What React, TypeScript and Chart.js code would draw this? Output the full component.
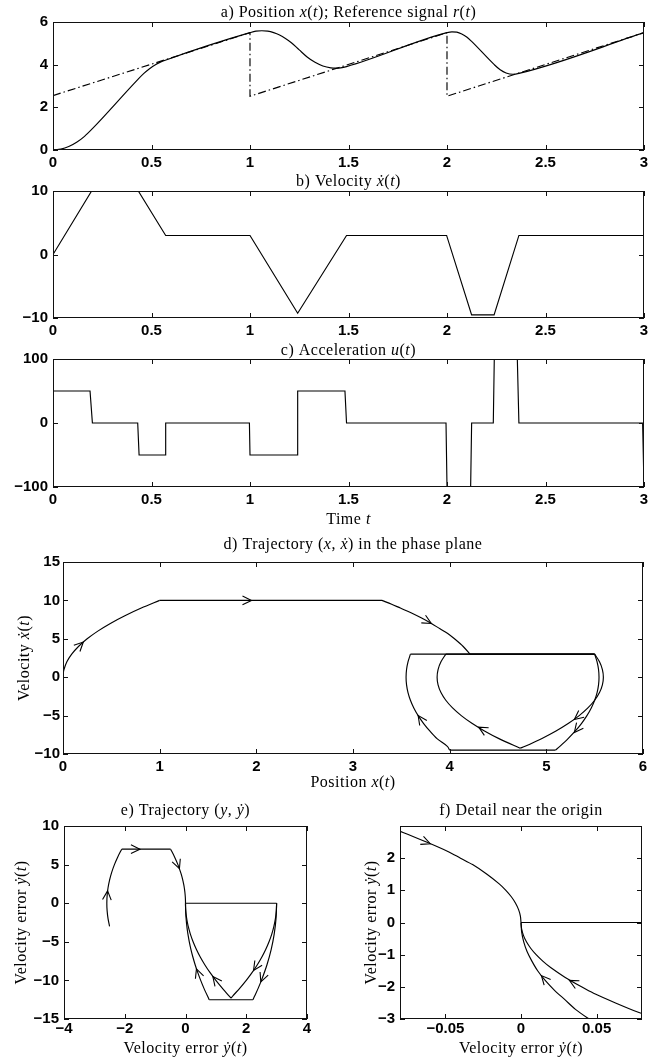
import React, { useEffect, useRef } from 'react';
import { Chart, registerables } from 'chart.js';

Chart.register(...registerables);

// ---------- a) position x(t) and reference r(t) ----------
const posT = [0, 0.04, 0.08, 0.12, 0.16, 0.2, 0.43, 0.46, 0.49, 0.52, 0.545, 0.57, 1.0, 1.03, 1.06, 1.09, 1.12, 1.15, 1.18, 1.21, 1.25, 1.29, 1.33, 1.37, 1.41, 1.435, 1.46, 1.49, 2.0, 2.025, 2.05, 2.075, 2.1, 2.125, 2.24, 2.27, 2.3, 2.335, 2.365, 3.0];
const posX = [0, 0.04, 0.16, 0.36, 0.64, 1.0, 3.3, 3.58, 3.81, 4.0, 4.12, 4.21, 5.5, 5.57, 5.59, 5.57, 5.5, 5.39, 5.23, 5.03, 4.69, 4.36, 4.11, 3.94, 3.85, 3.835, 3.85, 3.91, 5.5, 5.54, 5.525, 5.44, 5.3, 5.09, 4.0, 3.76, 3.61, 3.55, 3.59, 5.5];
const refT = [0, 1, 1, 2, 2, 3, 3];
const refR = [2.55, 5.5, 2.52, 5.5, 2.52, 5.5, 2.52];

// ---------- b) velocity ----------
const velT = [0, 0.196, 0.433, 0.572, 1.0, 1.242, 1.49, 1.998, 2.125, 2.239, 2.365, 3.0];
const velV = [0, 10, 10, 3, 3, -9.25, 3, 3, -9.5, -9.5, 3, 3];

// ---------- c) acceleration ----------
const accT = [0, 0.188, 0.2, 0.43, 0.437, 0.569, 0.572, 0.997, 1.0, 1.24, 1.242, 1.482, 1.49, 1.995, 2.0, 2.12, 2.125, 2.235, 2.24, 2.357, 2.365, 2.993, 3.0];
const accU = [50, 50, 0, 0, -50, -50, 0, 0, -50, -50, 50, 50, 0, 0, -100, -100, 0, 0, 100, 100, 0, 0, -100];

const timeTicks = [0, 0.5, 1, 1.5, 2, 2.5, 3];
const posTicks = [0, 2, 4, 6];
const velTicks = [-10, 0, 10];
const accTicks = [-100, 0, 100];

// ---------- d) phase plane (x, xdot) ----------
const dInitX = [0, 0.0025, 0.01, 0.04, 0.09, 0.16, 0.25, 0.36, 0.49, 0.64, 0.81, 1.0];
const dInitV = [0, 0.5, 1, 2, 3, 4, 5, 6, 7, 8, 9, 10];
const dTopX = [1.0, 3.3];
const dTopV = [10, 10];
const dDecX = [3.3, 3.4, 3.49, 3.6, 3.71, 3.81, 3.9, 3.98, 4.05, 4.14, 4.21];
const dDecV = [10, 9.5, 9, 8.4, 7.7, 7.0, 6.3, 5.7, 5.0, 4.0, 3.0];
const dCr1X = [4.21, 5.5];
const dCr1V = [3, 3];
const dL1OutX = [5.5, 5.55, 5.58, 5.59, 5.58, 5.55, 5.5, 5.43, 5.34, 5.23, 5.1, 4.95, 4.78, 4.73];
const dL1OutV = [3, 2, 1, 0, -1, -2, -3, -4, -5, -6, -7, -8, -9, -9.25];
const dL1RetX = [4.73, 4.51, 4.36, 4.23, 4.12, 4.03, 3.96, 3.91, 3.88, 3.87, 3.88, 3.91, 3.96];
const dL1RetV = [-9.25, -8, -7, -6, -5, -4, -3, -2, -1, 0, 1, 2, 3];
const dCr2X = [3.96, 5.5];
const dCr2V = [3, 3];
const dL2OutX = [5.5, 5.525, 5.54, 5.545, 5.54, 5.525, 5.5, 5.465, 5.42, 5.365, 5.3, 5.225, 5.14, 5.094];
const dL2OutV = [3, 2, 1, 0, -1, -2, -3, -4, -5, -6, -7, -8, -9, -9.5];
const dBotX = [5.094, 4.0];
const dBotV = [-9.5, -9.5];
const dL2RetX = [4.0, 3.976, 3.869, 3.794, 3.729, 3.674, 3.629, 3.594, 3.569, 3.554, 3.549, 3.554, 3.569, 3.594];
const dL2RetV = [-9.5, -9, -8, -7, -6, -5, -4, -3, -2, -1, 0, 1, 2, 3];
const dCr3X = [3.594, 5.5];
const dCr3V = [3, 3];
const phaseXTicks = [0, 1, 2, 3, 4, 5, 6];
const phaseYTicks = [-10, -5, 0, 5, 10, 15];
// arrows: tip x, tip y, tail x, tail y
const dArrows = [
  [0.21, 4.58, 0.12, 3.46],
  [1.95, 10, 1.7, 10],
  [3.81, 7.0, 3.71, 7.7],
  [4.3, -6.5, 4.44, -7.5],
  [3.674, -5, 3.729, -6],
  [5.29, -5.5, 5.39, -4.5],
  [5.29, -7.2, 5.353, -6.2],
];

// ---------- e/f) error trajectory (y, ydot) ----------
const eInitY = [-2.5, -2.55, -2.58, -2.59, -2.58, -2.55, -2.5, -2.43, -2.34, -2.23, -2.1];
const eInitDY = [-3, -2, -1, 0, 1, 2, 3, 4, 5, 6, 7];
const eTopY = [-2.1, -0.49];
const eTopDY = [7, 7];
const eDescY = [-0.49, -0.36, -0.25, -0.16, -0.1225, -0.09, -0.078, -0.0625, -0.048, -0.04, -0.032, -0.0225, -0.0144, -0.01, -0.0064, -0.0036, -0.0016, -0.0004, 0];
const eDescDY = [7, 6, 5, 4, 3.5, 3, 2.8, 2.5, 2.2, 2, 1.8, 1.5, 1.2, 1, 0.8, 0.6, 0.4, 0.2, 0];
const eJumpY = [0, 3];
const eJumpDY = [0, 0];
const eL1OutY = [3, 2.99, 2.96, 2.91, 2.84, 2.75, 2.64, 2.51, 2.36, 2.19, 2.0, 1.79, 1.56, 1.5];
const eL1OutDY = [0, -1, -2, -3, -4, -5, -6, -7, -8, -9, -10, -11, -12, -12.3];
const eL1RetY = [1.5, 1.21, 1.0, 0.81, 0.64, 0.49, 0.36, 0.25, 0.16, 0.1225, 0.09, 0.078, 0.0625, 0.048, 0.04, 0.029, 0.0196, 0.0144, 0.01, 0.0064, 0.0036, 0.0016, 0.0004, 0];
const eL1RetDY = [-12.3, -11, -10, -9, -8, -7, -6, -5, -4, -3.5, -3, -2.8, -2.5, -2.2, -2, -1.7, -1.4, -1.2, -1, -0.8, -0.6, -0.4, -0.2, 0];
const eL2OutY = [3, 2.98, 2.92, 2.82, 2.68, 2.5, 2.395, 2.28, 2.22];
const eL2OutDY = [0, -2, -4, -6, -8, -10, -11, -12, -12.5];
const eBotY = [2.22, 0.78];
const eBotDY = [-12.5, -12.5];
const eL2RetY = [0.78, 0.605, 0.5, 0.405, 0.32, 0.245, 0.18, 0.125, 0.08, 0.061, 0.045, 0.036, 0.029, 0.022, 0.016, 0.011, 0.0072, 0.004, 0.0018, 0.00045, 0];
const eL2RetDY = [-12.5, -11, -10, -9, -8, -7, -6, -5, -4, -3.5, -3, -2.7, -2.4, -2.1, -1.8, -1.5, -1.2, -0.9, -0.6, -0.3, 0];
const errXTicks = [-4, -2, 0, 2, 4];
const errYTicks = [-15, -10, -5, 0, 5, 10];
const detXTicks = [-0.05, 0, 0.05];
const detYTicks = [-3, -2, -1, 0, 1, 2];
const eArrows = [
  [-2.565, 1.6, -2.585, 0.6],
  [-1.5, 7, -1.8, 7],
  [-0.2, 4.47, -0.29, 5.4],
  [2.24, -8.7, 2.39, -7.8],
  [2.48, -10.2, 2.58, -9.2],
  [0.9, -9.5, 1.12, -10.6],
  [0.36, -8.5, 0.48, -9.8],
];
const fArrows = [
  [-0.06, 2.45, -0.076, 2.75],
  [0.032, -1.8, 0.044, -2.1],
  [0.0135, -1.65, 0.022, -2.1],
];

// ---------- layout / drawing ----------
type Seg = { xs: number[]; ys: number[]; dash?: number[]; tension?: number; mono?: boolean };
type Panel = {
  box: number[]; area: number[];
  xr: number[]; yr: number[]; xt: number[]; yt: number[];
  segs: Seg[]; arrows: number[][];
  title: string; titleDy: number; titleDx?: number;
  xLabel?: string; xLabelDy?: number; xLabelDx?: number;
  yLabel?: string; yLabelDx?: number;
  xPad: number; yPad: number;
};

const SERIF = '"Liberation Serif", "Times New Roman", "DejaVu Serif", serif';
const SANS = '"Liberation Sans", Arial, Helvetica, sans-serif';
const TEXT_SIZE = 16;

const errSegs: Seg[] = [
  { xs: eInitY, ys: eInitDY, tension: 0.3 },
  { xs: eTopY, ys: eTopDY },
  { xs: eDescY, ys: eDescDY, tension: 0.3 },
  { xs: eJumpY, ys: eJumpDY },
  { xs: eL1OutY, ys: eL1OutDY, tension: 0.3 },
  { xs: eL1RetY, ys: eL1RetDY, tension: 0.3 },
  { xs: eL2OutY, ys: eL2OutDY, tension: 0.3 },
  { xs: eBotY, ys: eBotDY },
  { xs: eL2RetY, ys: eL2RetDY, tension: 0.3 },
];

const panels: Panel[] = [
  {
    box: [0, 0, 671, 172], area: [53, 22, 644, 150],
    xr: [0, 3], yr: [0, 6], xt: timeTicks, yt: posTicks,
    segs: [
      { xs: posT, ys: posX, mono: true },
      { xs: refT, ys: refR, dash: [8, 3, 1.5, 3] },
    ],
    arrows: [],
    title: 'a) Position $x$($t$); Reference signal $r$($t$)', titleDy: -9.5,
    xPad: 4, yPad: 5,
  },
  {
    box: [0, 172, 671, 168], area: [53, 191, 644, 318],
    xr: [0, 3], yr: [-10, 10], xt: timeTicks, yt: velTicks,
    segs: [{ xs: velT, ys: velV }],
    arrows: [],
    title: 'b) Velocity $ẋ$($t$)', titleDy: -9,
    xPad: 4, yPad: 5,
  },
  {
    box: [0, 340, 671, 190], area: [53, 359, 644, 487],
    xr: [0, 3], yr: [-100, 100], xt: timeTicks, yt: accTicks,
    segs: [{ xs: accT, ys: accU }],
    arrows: [],
    title: 'c) Acceleration $u$($t$)', titleDy: -8.5,
    xLabel: 'Time $t$', xLabelDy: 33,
    xPad: 4, yPad: 5,
  },
  {
    box: [0, 530, 671, 265], area: [63, 562, 643, 754],
    xr: [0, 6], yr: [-10, 15], xt: phaseXTicks, yt: phaseYTicks,
    segs: [
      { xs: dInitX, ys: dInitV, tension: 0.3 },
      { xs: dTopX, ys: dTopV },
      { xs: dDecX, ys: dDecV, tension: 0.3 },
      { xs: dCr1X, ys: dCr1V },
      { xs: dL1OutX, ys: dL1OutV, tension: 0.3 },
      { xs: dL1RetX, ys: dL1RetV, tension: 0.3 },
      { xs: dCr2X, ys: dCr2V },
      { xs: dL2OutX, ys: dL2OutV, tension: 0.3 },
      { xs: dBotX, ys: dBotV },
      { xs: dL2RetX, ys: dL2RetV, tension: 0.3 },
      { xs: dCr3X, ys: dCr3V },
    ],
    arrows: dArrows,
    title: 'd) Trajectory ($x$, $ẋ$) in the phase plane', titleDy: -17,
    xLabel: 'Position $x$($t$)', xLabelDy: 29,
    yLabel: 'Velocity $ẋ$($t$)', yLabelDx: -38.5,
    xPad: 4, yPad: 3,
  },
  {
    box: [0, 795, 335, 269], area: [64, 826, 307, 1019],
    xr: [-4, 4], yr: [-15, 10], xt: errXTicks, yt: errYTicks,
    segs: errSegs,
    arrows: eArrows,
    title: 'e) Trajectory ($y$, $ẏ$)', titleDy: -15,
    xLabel: 'Velocity error $ẏ$($t$)', xLabelDy: 30,
    yLabel: 'Velocity error $ẏ$($t$)', yLabelDx: -42,
    xPad: 1, yPad: 5,
  },
  {
    box: [335, 795, 336, 269], area: [400, 826, 642, 1019],
    xr: [-0.08, 0.08], yr: [-3, 3], xt: detXTicks, yt: detYTicks,
    segs: errSegs,
    arrows: fArrows,
    title: 'f) Detail near the origin', titleDy: -15,
    xLabel: 'Velocity error $ẏ$($t$)', xLabelDy: 30,
    yLabel: 'Velocity error $ẏ$($t$)', yLabelDx: -28,
    xPad: 1, yPad: 5,
  },
];

function richText(ctx: CanvasRenderingContext2D, text: string, cx: number, cy: number, size: number, rot: number) {
  const parts = text.split('$');
  const fonts = parts.map((_, i) => `${i % 2 ? 'italic ' : ''}${size}px ${SERIF}`);
  ctx.save();
  (ctx as any).letterSpacing = '0.5px';
  const widths = parts.map((t, i) => { ctx.font = fonts[i]; return ctx.measureText(t).width; });
  const total = widths.reduce((s, w) => s + w, 0);
  ctx.translate(cx, cy);
  ctx.rotate(rot);
  ctx.fillStyle = '#000';
  ctx.textAlign = 'left';
  ctx.textBaseline = 'middle';
  let x = -total / 2;
  parts.forEach((t, i) => { ctx.font = fonts[i]; ctx.fillText(t, x, 0); x += widths[i]; });
  ctx.restore();
}

function decor(p: Panel) {
  return {
    id: 'decor',
    afterDatasetsDraw(chart: any) {
      const ctx = chart.ctx as CanvasRenderingContext2D;
      const sx = chart.scales.x, sy = chart.scales.y;
      ctx.save();
      ctx.strokeStyle = '#000';
      ctx.lineWidth = 1.1;
      const len = 10, spread = 0.45;
      for (const a of p.arrows) {
        const tx = sx.getPixelForValue(a[0]), ty = sy.getPixelForValue(a[1]);
        const fx = sx.getPixelForValue(a[2]), fy = sy.getPixelForValue(a[3]);
        const ang = Math.atan2(ty - fy, tx - fx);
        ctx.beginPath();
        ctx.moveTo(tx - len * Math.cos(ang - spread), ty - len * Math.sin(ang - spread));
        ctx.lineTo(tx, ty);
        ctx.lineTo(tx - len * Math.cos(ang + spread), ty - len * Math.sin(ang + spread));
        ctx.stroke();
      }
      ctx.restore();
    },
    afterDraw(chart: any) {
      const ctx = chart.ctx as CanvasRenderingContext2D;
      const a = chart.chartArea;
      const sx = chart.scales.x, sy = chart.scales.y;
      ctx.save();
      ctx.strokeStyle = '#111';
      ctx.lineWidth = 1;
      ctx.strokeRect(a.left + 0.5, a.top + 0.5, a.right - a.left - 1, a.bottom - a.top - 1);
      ctx.beginPath();
      const tl = 5;
      for (const v of p.xt) {
        const px = Math.round(sx.getPixelForValue(v)) + 0.5;
        ctx.moveTo(px, a.bottom); ctx.lineTo(px, a.bottom - tl);
        ctx.moveTo(px, a.top); ctx.lineTo(px, a.top + tl);
      }
      for (const v of p.yt) {
        const py = Math.round(sy.getPixelForValue(v)) + 0.5;
        ctx.moveTo(a.left, py); ctx.lineTo(a.left + tl, py);
        ctx.moveTo(a.right, py); ctx.lineTo(a.right - tl, py);
      }
      ctx.stroke();
      ctx.restore();
      const cx = (a.left + a.right) / 2, cy = (a.top + a.bottom) / 2;
      richText(ctx, p.title, cx + (p.titleDx || 0), a.top + p.titleDy, TEXT_SIZE, 0);
      if (p.xLabel) richText(ctx, p.xLabel, cx + (p.xLabelDx || 0), a.bottom + (p.xLabelDy || 0), TEXT_SIZE, 0);
      if (p.yLabel) richText(ctx, p.yLabel, a.left + (p.yLabelDx || 0), cy, TEXT_SIZE, -Math.PI / 2);
    },
  };
}

const fmt = (v: any) => {
  const n = Number(v);
  return n < 0 ? '\u2212' + String(Math.abs(n)) : String(n);
};

function PanelChart({ p }: { p: Panel }) {
  const ref = useRef<HTMLCanvasElement>(null);
  const [bl, bt, bw, bh] = p.box;
  useEffect(() => {
    const [L, T, R, B] = p.area;
    const tickFont = { family: SANS, size: 15, weight: 'bold' as const };
    const chart = new Chart(ref.current as HTMLCanvasElement, {
      type: 'scatter',
      data: {
        datasets: p.segs.map((s) => ({
          data: s.xs.map((x, i) => ({ x, y: s.ys[i] })),
          showLine: true,
          borderColor: '#000',
          borderWidth: 1.15,
          pointRadius: 0,
          pointHoverRadius: 0,
          tension: s.tension || 0,
          cubicInterpolationMode: s.mono ? 'monotone' : 'default',
          borderDash: s.dash || [],
          fill: false,
        })),
      },
      options: {
        responsive: false,
        animation: false,
        events: [],
        layout: { padding: { left: 0, top: T - bt, right: bl + bw - R, bottom: 0 } },
        plugins: { legend: { display: false }, tooltip: { enabled: false }, title: { display: false } },
        scales: {
          x: {
            type: 'linear', position: 'bottom', min: p.xr[0], max: p.xr[1],
            afterBuildTicks: (s: any) => { s.ticks = p.xt.map((v) => ({ value: v })); },
            afterFit: (s: any) => { s.height = bt + bh - B; },
            grid: { display: false, drawTicks: false },
            border: { display: false },
            ticks: { callback: fmt, font: tickFont, color: '#000', padding: p.xPad, maxRotation: 0, minRotation: 0, autoSkip: false },
          },
          y: {
            type: 'linear', position: 'left', min: p.yr[0], max: p.yr[1],
            afterBuildTicks: (s: any) => { s.ticks = p.yt.map((v) => ({ value: v })); },
            afterFit: (s: any) => { s.width = L - bl; },
            grid: { display: false, drawTicks: false },
            border: { display: false },
            ticks: { callback: fmt, font: tickFont, color: '#000', padding: p.yPad, autoSkip: false },
          },
        },
      } as any,
      plugins: [decor(p)],
    });
    return () => chart.destroy();
  }, []);
  return (
    <canvas
      ref={ref}
      width={bw}
      height={bh}
      style={{ position: 'absolute', left: bl, top: bt, width: bw, height: bh }}
    />
  );
}

export default function App() {
  return (
    <div style={{ position: 'absolute', left: 0, top: 0, width: 671, height: 1064, background: '#fff', overflow: 'hidden' }}>
      {panels.map((p, i) => <PanelChart key={i} p={p} />)}
    </div>
  );
}
